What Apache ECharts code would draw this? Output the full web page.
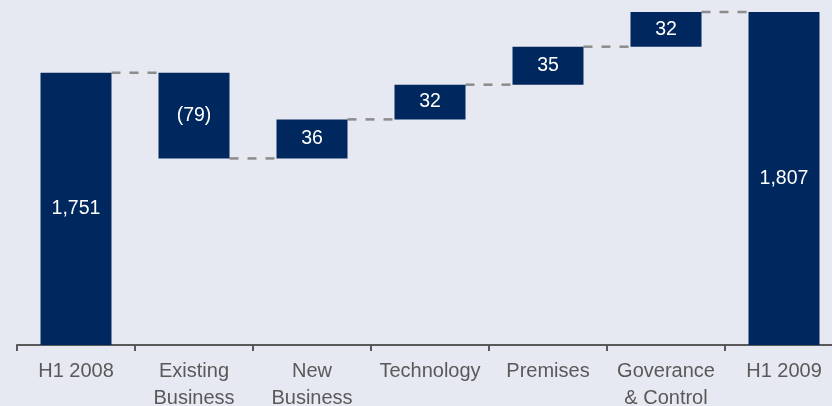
<!DOCTYPE html>
<html>
<head>
<meta charset="utf-8">
<script src="https://cdn.jsdelivr.net/npm/echarts@6/dist/echarts.min.js"></script>
<style>
html,body{margin:0;padding:0;background:#e6e9f2;}
#c{width:832px;height:406px;}
</style>
</head>
<body>
<div id="c"></div>
<script>
const categories = ['H1 2008', 'Existing\nBusiness', 'New\nBusiness', 'Technology', 'Premises', 'Goverance\n& Control', 'H1 2009'];
const startTotal = 1751;
const changes = [-79, 36, 32, 35, 32];
const endTotal = 1807;

// build waterfall tables from the named values
const bases = [0];
const heights = [startTotal];
const labels = [startTotal.toLocaleString('en-US')];
const levels = [startTotal]; // running total after each category
let run = startTotal;
changes.forEach(d => {
  const next = run + d;
  bases.push(Math.min(run, next));
  heights.push(Math.abs(d));
  labels.push(d < 0 ? '(' + Math.abs(d) + ')' : String(d));
  run = next;
  levels.push(run);
});
bases.push(0);
heights.push(endTotal);
labels.push(endTotal.toLocaleString('en-US'));

const BAR_W = 71;
const connectorData = levels.map((v, i) => [i, v]);

const chart = echarts.init(document.getElementById('c'));
chart.setOption({
  backgroundColor: '#e6e9f2',
  animation: false,
  grid: { left: 17, top: 12, bottom: 61, right: -11, containLabel: false, outerBoundsMode: 'none' },
  xAxis: {
    type: 'category',
    data: categories,
    axisLine: { lineStyle: { color: '#595959', width: 2 } },
    axisTick: { show: true, length: 6, lineStyle: { color: '#595959', width: 2 } },
    axisLabel: { color: '#595959', fontSize: 20, fontFamily: 'Liberation Sans, Arial, sans-serif', lineHeight: 27, margin: 13, interval: 0 }
  },
  yAxis: {
    type: 'value', min: 1500, max: 1807, show: false, splitLine: { show: false }
  },
  series: [
    {
      type: 'bar', stack: 'w', data: bases, barWidth: BAR_W,
      itemStyle: { color: 'transparent' }, silent: true
    },
    {
      type: 'bar', stack: 'w', barWidth: BAR_W,
      data: heights.map((h, i) => ({ value: h, label: { formatter: labels[i] } })),
      itemStyle: { color: '#00275e' },
      label: { show: true, position: 'inside', color: '#ffffff', fontSize: 19.5, fontFamily: 'Liberation Sans, Arial, sans-serif' }
    },
    {
      type: 'custom',
      data: connectorData,
      renderItem: function (params, api) {
        const i = api.value(0);
        const v = api.value(1);
        const p1 = api.coord([i, v]);
        const p2 = api.coord([i + 1, v]);
        return {
          type: 'line',
          shape: { x1: p1[0] + BAR_W / 2, y1: p1[1], x2: p2[0] - BAR_W / 2, y2: p2[1] },
          style: { stroke: '#8c8c8c', lineWidth: 2.5, lineDash: [9, 9] }
        };
      },
      z: 1
    }
  ]
});
</script>
</body>
</html>
